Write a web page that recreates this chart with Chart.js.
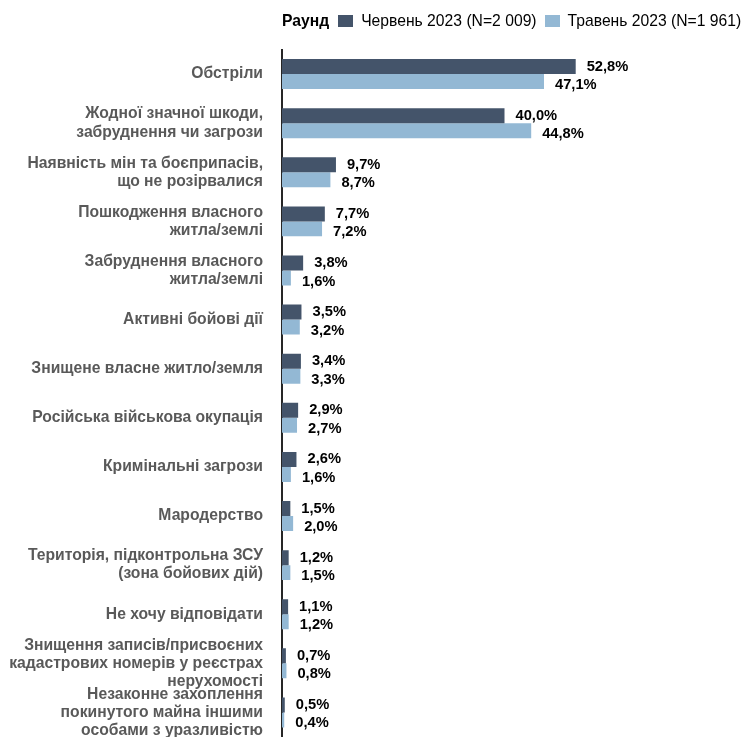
<!DOCTYPE html>
<html lang="uk">
<head>
<meta charset="utf-8">
<script src="https://cdn.jsdelivr.net/npm/chart.js@4.4.1/dist/chart.umd.min.js"></script>
<style>
  html, body { margin: 0; padding: 0; background: #fff; overflow: hidden; }
  body { width: 744px; height: 737px; position: relative; font-family: "Liberation Sans", Arial, sans-serif; }
  #wrap { position: absolute; left: 0; top: 0; width: 744px; height: 737px; }
  #legend { position: absolute; left: 282px; top: 12px; display: flex; align-items: center; font-size: 15.7px; color: #000; white-space: nowrap; z-index: 2; }
  #legend b { margin-right: 9px; }
  #legend .sw { display: inline-block; width: 15px; height: 12px; margin-right: 8px; }
  #legend .item { display: flex; align-items: center; margin-right: 8px; }
</style>
</head>
<body>
<div id="legend"></div>
<div id="wrap"><canvas id="chart"></canvas></div>
<script>
// категорії (багаторядкові підписи — масиви рядків)
const categories = [
  "Обстріли",
  ["Жодної значної шкоди,", "забруднення чи загрози"],
  ["Наявність мін та боєприпасів,", "що не розірвалися"],
  ["Пошкодження власного", "житла/землі"],
  ["Забруднення власного", "житла/землі"],
  "Активні бойові дії",
  "Знищене власне житло/земля",
  "Російська військова окупація",
  "Кримінальні загрози",
  "Мародерство",
  ["Територія, підконтрольна ЗСУ", "(зона бойових дій)"],
  "Не хочу відповідати",
  ["Знищення записів/присвоєних", "кадастрових номерів у реєстрах", "нерухомості"],
  ["Незаконне захоплення", "покинутого майна іншими", "особами з уразливістю"]
];

const june2023 = [52.8, 40.0, 9.7, 7.7, 3.8, 3.5, 3.4, 2.9, 2.6, 1.5, 1.2, 1.1, 0.7, 0.5];
const may2023 = [47.1, 44.8, 8.7, 7.2, 1.6, 3.2, 3.3, 2.7, 1.6, 2.0, 1.5, 1.2, 0.8, 0.4];

const seriesLabels = ["Червень 2023 (N=2 009)", "Травень 2023 (N=1 961)"];
const seriesColors = ["#44546a", "#93b8d4"];
const legendTitle = "Раунд";

// легенда над графіком
const legendDiv = document.getElementById("legend");
legendDiv.innerHTML = "<b>" + legendTitle + "</b>" + seriesLabels.map((l, i) =>
  `<span class="item"><span class="sw" style="background:${seriesColors[i]}"></span>${l}</span>`
).join("");

// підписи значень праворуч від стовпчиків
const valueLabels = {
  id: "valueLabels",
  afterDatasetsDraw(chart) {
    const ctx = chart.ctx;
    ctx.save();
    ctx.font = "bold 14.7px 'Liberation Sans', Arial, sans-serif";
    ctx.fillStyle = "#000";
    ctx.textBaseline = "middle";
    ctx.textAlign = "left";
    chart.data.datasets.forEach((ds, di) => {
      chart.getDatasetMeta(di).data.forEach((bar, i) => {
        const txt = ds.data[i].toFixed(1).replace(".", ",") + "%";
        ctx.fillText(txt, bar.x + 11, bar.y + (di === 0 ? 0 : 3.5));
      });
    });
    ctx.restore();
  }
};

const ctx = document.getElementById("chart").getContext("2d");

new Chart(ctx, {
  type: "bar",
  data: {
    labels: categories,
    datasets: [
      { label: seriesLabels[0], data: june2023, backgroundColor: seriesColors[0] },
      { label: seriesLabels[1], data: may2023, backgroundColor: seriesColors[1] }
    ]
  },
  options: {
    indexAxis: "y",
    responsive: true,
    maintainAspectRatio: false,
    animation: false,
    layout: { padding: { top: 49.5, right: 17, bottom: 0, left: 0 } },
    datasets: {
      bar: { barPercentage: 1, categoryPercentage: 0.61 }
    },
    scales: {
      x: {
        display: false,
        min: 0,
        max: 80
      },
      y: {
        afterFit(scale) {
          scale.width = 282;
          scale.paddingTop = 0;
          scale.paddingBottom = 0;
        },
        grid: { display: false, drawTicks: false },
        border: { display: true, color: "#262626", width: 2 },
        ticks: {
          autoSkip: false,
          color: "#595959",
          padding: 19,
          font: { family: "'Liberation Sans', Arial, sans-serif", size: 15.7, weight: "bold", lineHeight: 1.15 }
        }
      }
    },
    plugins: {
      legend: { display: false },
      tooltip: { enabled: false }
    }
  },
  plugins: [valueLabels]
});
</script>
</body>
</html>
